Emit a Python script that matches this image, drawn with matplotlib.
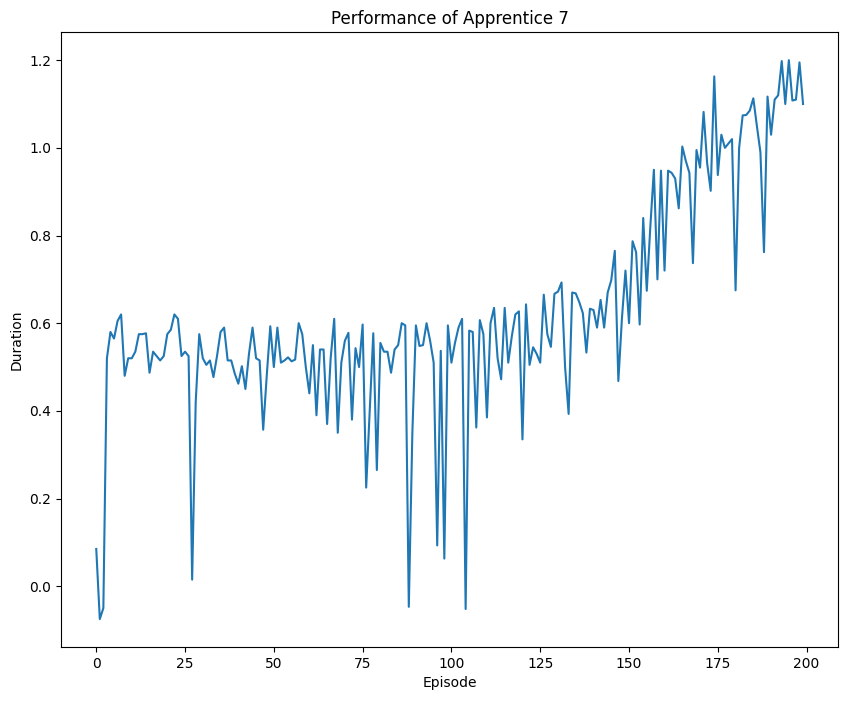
import matplotlib
matplotlib.use("Agg")
import matplotlib.pyplot as plt

durations = [
0.085,-0.075,-0.05,0.52,0.58,0.565,0.605,0.62,0.48,0.52,
0.52,0.535,0.575,0.575,0.577,0.487,0.535,0.525,0.515,0.525,
0.575,0.585,0.62,0.61,0.525,0.535,0.525,0.015,0.42,0.575,
0.52,0.505,0.515,0.477,0.525,0.58,0.59,0.515,0.515,0.485,
0.462,0.502,0.45,0.53,0.59,0.52,0.515,0.357,0.48,0.593,
0.5,0.59,0.51,0.515,0.522,0.513,0.517,0.6,0.575,0.5,
0.44,0.55,0.39,0.54,0.54,0.37,0.52,0.61,0.35,0.51,
0.56,0.578,0.38,0.543,0.5,0.597,0.225,0.4,0.577,0.265,
0.555,0.535,0.535,0.487,0.54,0.55,0.6,0.595,-0.047,0.35,
0.595,0.548,0.55,0.6,0.56,0.51,0.093,0.537,0.063,0.595,
0.51,0.555,0.59,0.61,-0.052,0.583,0.58,0.362,0.607,0.575,
0.385,0.6,0.635,0.52,0.472,0.635,0.51,0.57,0.62,0.627,
0.335,0.643,0.505,0.545,0.53,0.51,0.665,0.575,0.546,0.667,
0.672,0.693,0.5,0.393,0.67,0.668,0.648,0.623,0.533,0.633,
0.63,0.59,0.653,0.59,0.67,0.698,0.765,0.468,0.61,0.72,
0.6,0.787,0.762,0.597,0.84,0.674,0.82,0.95,0.7,0.948,
0.72,0.948,0.943,0.93,0.862,1.003,0.97,0.943,0.737,0.995,
0.955,1.082,0.965,0.902,1.163,0.938,1.03,1.0,1.01,1.02,
0.675,1.0,1.074,1.075,1.085,1.113,1.05,0.99,0.762,1.117,
1.03,1.11,1.12,1.198,1.1,1.2,1.108,1.11,1.195,1.1]
episodes = list(range(len(durations)))

fig, ax = plt.subplots(figsize=(8.46, 7.01), dpi=100)
ax.plot(episodes, durations, color='#1f77b4')
ax.set_title("Performance of Apprentice 7")
ax.set_xlabel("Episode")
ax.set_ylabel("Duration")
plt.subplots_adjust(left=0.072, right=0.991, top=0.954, bottom=0.077)
fig.savefig("out.png", dpi=100)
